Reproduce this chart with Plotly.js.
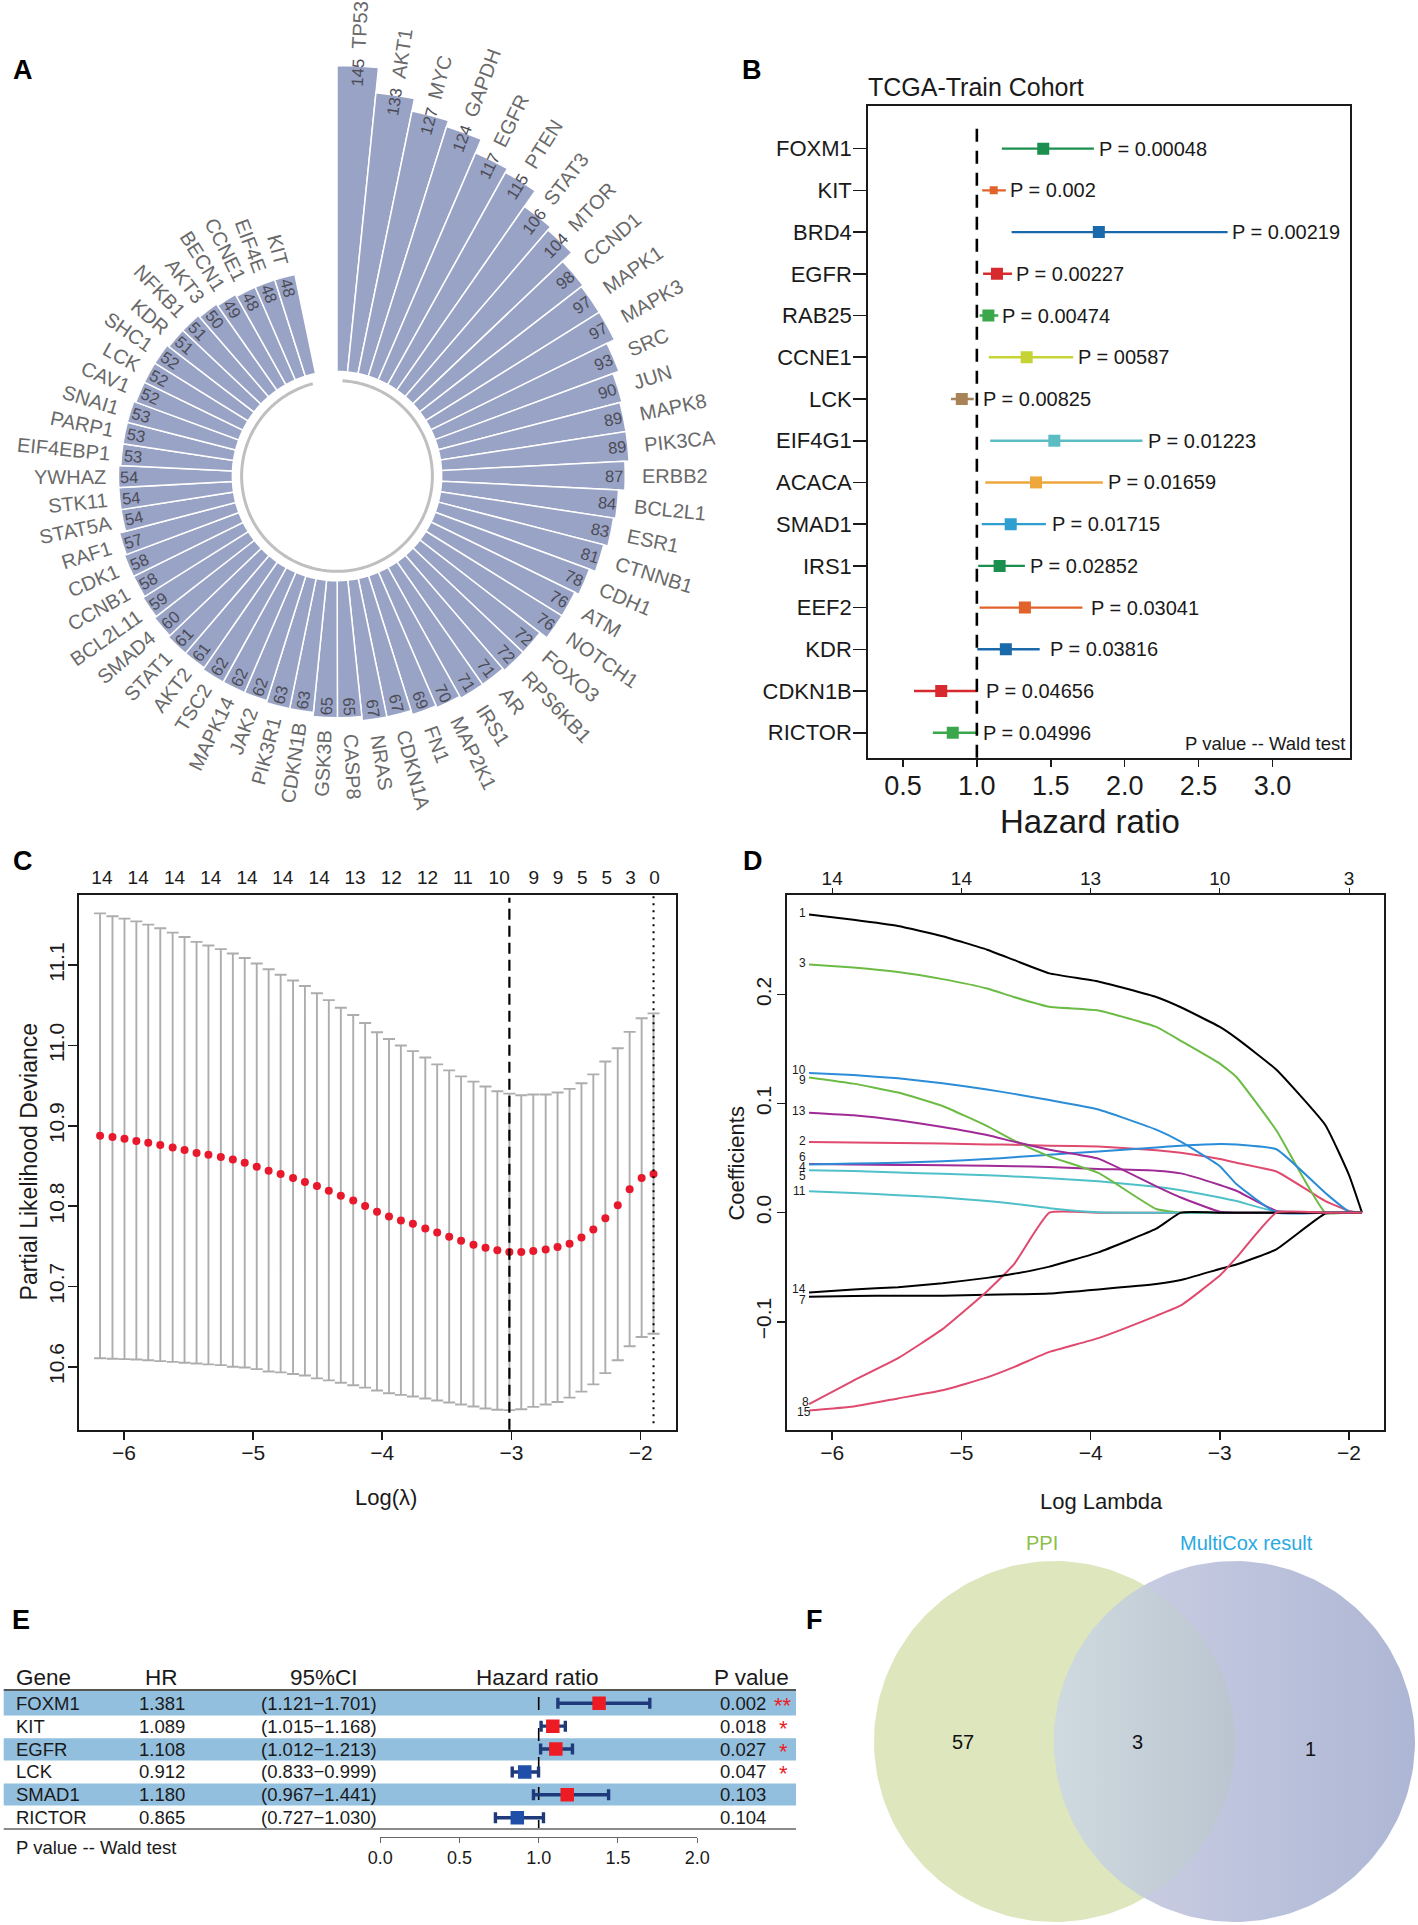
<!DOCTYPE html>
<html>
<head>
<meta charset="utf-8">
<script src="https://cdn.plot.ly/plotly-3.0.1.min.js"></script>
<style>
html, body { margin: 0; padding: 0; background: #fff; overflow: hidden; }
#wrap { position: relative; width: 1418px; height: 1925px; overflow: hidden; }
#panelA { position: absolute; left: -163.4px; top: -24.3px; width: 1000px; height: 1000px; }
#panels { position: absolute; left: 0; top: 0; width: 1418px; height: 1925px; }
</style>
</head>
<body>
<div id="wrap">
  <div id="panelA"></div>
  <div id="panels"></div>
</div>
<script>
// A - PPI node degree
var ppiGenes = ['TP53','AKT1','MYC','GAPDH','EGFR','PTEN','STAT3','MTOR','CCND1','MAPK1','MAPK3','SRC','JUN','MAPK8','PIK3CA','ERBB2','BCL2L1','ESR1','CTNNB1','CDH1','ATM','NOTCH1','FOXO3','RPS6KB1','AR','IRS1','MAP2K1','FN1','CDKN1A','NRAS','CASP8','GSK3B','CDKN1B','PIK3R1','JAK2','MAPK14','TSC2','AKT2','STAT1','SMAD4','BCL2L11','CCNB1','CDK1','RAF1','STAT5A','STK11','YWHAZ','EIF4EBP1','PARP1','SNAI1','CAV1','LCK','SHC1','KDR','NFKB1','AKT3','BECN1','CCNE1','EIF4E','KIT'];
var ppiDegree = [145,133,127,124,117,115,106,104,98,97,97,93,90,89,89,87,84,83,81,78,76,76,72,72,71,71,70,69,67,67,65,65,63,63,62,62,62,61,61,60,59,58,58,57,54,54,54,53,53,53,52,52,52,51,51,50,49,48,48,48];

// B - univariate cox
var uniGenes = ['FOXM1','KIT','BRD4','EGFR','RAB25','CCNE1','LCK','EIF4G1','ACACA','SMAD1','IRS1','EEF2','KDR','CDKN1B','RICTOR'];
var uniHR =   [1.449,1.114,1.825,1.136,1.078,1.337,0.898,1.524,1.400,1.229,1.154,1.325,1.196,0.759,0.837];
var uniLow =  [1.169,1.036,1.235,1.042,1.018,1.081,0.825,1.090,1.057,1.033,1.009,1.018,1.003,0.575,0.702];
var uniHigh = [1.792,1.196,2.696,1.238,1.145,1.651,0.979,2.120,1.852,1.467,1.325,1.714,1.425,1.003,1.009];
var uniP = ['P = 0.00048','P = 0.002','P = 0.00219','P = 0.00227','P = 0.00474','P = 00587','P = 0.00825','P = 0.01223','P = 0.01659','P = 0.01715','P = 0.02852','P = 0.03041','P = 0.03816','P = 0.04656','P = 0.04996'];
var uniPX = [1.831,1.232,2.735,1.271,1.178,1.693,1.048,2.163,1.892,1.518,1.367,1.780,1.500,1.069,1.048];
var uniColors = ['#1b8f4d','#e2622b','#1a69ab','#d62a2e','#3aa74a','#c5d334','#a98358','#5cbcc3','#eea73c','#2f9fd0','#1b8f4d','#e2622b','#1a69ab','#d62a2e','#3aa74a'];
var uniSizes = [12,8,12,12,12,12,12,12,12,12,12,12,12,12,12];

// C - lasso cross validation
var cvLambda = [-6.185,-6.089,-5.996,-5.904,-5.812,-5.719,-5.623,-5.531,-5.438,-5.346,-5.250,-5.157,-5.065,-4.972,-4.880,-4.787,-4.691,-4.599,-4.506,-4.414,-4.321,-4.225,-4.133,-4.041,-3.948,-3.856,-3.763,-3.667,-3.575,-3.482,-3.390,-3.294,-3.201,-3.109,-3.016,-2.924,-2.831,-2.735,-2.643,-2.550,-2.458,-2.366,-2.273,-2.177,-2.085,-1.992,-1.900];
var cvMean = [10.8875,10.886,10.884,10.881,10.879,10.876,10.873,10.870,10.866,10.864,10.861,10.858,10.854,10.849,10.844,10.840,10.835,10.830,10.825,10.819,10.813,10.807,10.800,10.793,10.787,10.782,10.778,10.772,10.767,10.762,10.757,10.752,10.748,10.745,10.743,10.743,10.744,10.746,10.749,10.753,10.761,10.771,10.785,10.801,10.821,10.835,10.840];
var cvUpper = [11.1645,11.161,11.158,11.1545,11.1505,11.146,11.1405,11.135,11.129,11.1245,11.120,11.1145,11.109,11.102,11.095,11.088,11.081,11.074,11.065,11.0565,11.047,11.038,11.028,11.0165,11.008,11.000,10.993,10.985,10.9765,10.969,10.9615,10.955,10.949,10.943,10.940,10.938,10.939,10.939,10.9415,10.946,10.953,10.964,10.980,10.9965,11.017,11.034,11.040];
var cvLower = [10.6106,10.610,10.6095,10.609,10.608,10.607,10.606,10.605,10.604,10.603,10.602,10.600,10.599,10.597,10.594,10.593,10.591,10.589,10.5855,10.583,10.580,10.577,10.574,10.5705,10.567,10.565,10.563,10.5605,10.558,10.5555,10.553,10.5505,10.548,10.5465,10.546,10.547,10.550,10.553,10.556,10.5615,10.569,10.578,10.592,10.608,10.6256,10.637,10.641];
var cvTopVals = [-6.171,-5.89,-5.609,-5.328,-5.047,-4.77,-4.489,-4.211,-3.93,-3.649,-3.376,-3.095,-2.828,-2.639,-2.451,-2.262,-2.078,-1.893];
var cvTopText = ['14','14','14','14','14','14','14','13','12','12','11','10','9','9','5','5','3','0'];

// D - lasso coefficient paths
var pathLambda = [-6.179,-5.835,-5.49,-5.146,-4.801,-4.594,-4.319,-3.94,-3.492,-3.302,-3.0,-2.872,-2.562,-2.183,-2.0,-1.9];
var path1 =  [.2734,.2685,.2628,.2534,.2411,.2317,.2194,.2120,.1977,.1883,.1703,.1600,.1310,.0802,.0344,0];
var path2 =  [.0647,.0643,.0639,.0634,.0626,.0622,.0614,.0606,.0573,.0549,.0491,.0458,.0377,.0106,.0016,0];
var path3 =  [.2276,.2247,.2206,.2141,.2055,.1977,.1887,.1854,.1703,.1576,.1367,.1244,.0753,0,0,0];
var path4 =  [.0446,.0442,.0438,.0434,.0430,.0426,.0418,.0401,.0385,.0360,.0254,.0201,.0016,0,0,0];
var path5 =  [.0389,.0381,.0368,.0356,.0344,.0332,.0315,.0287,.0237,.0205,.0139,.0106,.0008,0,0,0];
var path6 =  [.0442,.0450,.0458,.0471,.0491,.0508,.0532,.0561,.0598,.0614,.0630,.0626,.0581,.0180,.0008,0];
var path7 =  [-.0770,-.0765,-.0761,-.0761,-.0753,-.0749,-.0741,-.0704,-.0655,-.0618,-.0516,-.0475,-.0336,-.0008,0,0];
var path8 =  [-.1756,-.1539,-.1334,-.1068,-.0720,-.0475,0,0,0,0,0,0,0,0,0,0];
var path9 =  [.1240,.1183,.1101,.0978,.0794,.0663,.0516,.0364,.0033,0,0,0,0,0,0,0];
var path10 = [.1281,.1261,.1232,.1187,.1130,.1089,.1032,.0946,.0761,.0651,.0426,.0262,0,0,0,0];
var path11 = [.0196,.0180,.0160,.0139,.0106,.0082,.0041,.0004,0,0,0,0,0,0,0,0];
var path13 = [.0917,.0892,.0847,.0786,.0712,.0651,.0577,.0495,.0241,.0139,.0008,0,0,0,0,0];
var path14 = [-.0733,-.0704,-.0684,-.0647,-.0598,-.0561,-.0495,-.0364,-.0147,0,0,0,0,0,0,0];
var path15 = [-.1813,-.1777,-.1703,-.1629,-.1510,-.1416,-.1277,-.1150,-.0946,-.0851,-.0577,-.0413,0,0,0,0];
var pathSeries = [path1,path2,path3,path4,path5,path6,path7,path8,path9,path10,path11,path13,path14,path15];
var pathColors = ['#000000','#df4a6e','#6cbb45','#a02a96','#4fc0c8','#2b8cd8','#000000','#df4a6e','#6cbb45','#2b8cd8','#4fc0c8','#a02a96','#000000','#df4a6e'];
var pathNames = ['1','3','10','9','13','2','6','4','5','11','14','7','8','15'];
var pathNameX = [-6.207,-6.207,-6.207,-6.207,-6.207,-6.207,-6.207,-6.207,-6.207,-6.207,-6.207,-6.207,-6.186,-6.172];
var pathNameY = [.2751,.2292,.1306,.1212,.0929,.0655,.0512,.0418,.0340,.0196,-.0704,-.0802,-.1736,-.1830];
var pathTopVals = [-6,-5,-4,-3,-2];
var pathTopText = ['14','14','13','10','3'];

// E - multivariate cox
var multiGenes = ['FOXM1','KIT','EGFR','LCK','SMAD1','RICTOR'];
var multiHR = [1.381,1.089,1.108,0.912,1.180,0.865];
var multiLow = [1.121,1.015,1.012,0.833,0.967,0.727];
var multiHigh = [1.701,1.168,1.213,0.999,1.441,1.030];
var multiCI = ['(1.121\u22121.701)','(1.015\u22121.168)','(1.012\u22121.213)','(0.833\u22120.999)','(0.967\u22121.441)','(0.727\u22121.030)'];
var multiHRText = ['1.381','1.089','1.108','0.912','1.180','0.865'];
var multiP = ['0.002','0.018','0.027','0.047','0.103','0.104'];
var multiStars = ['**','*','*','*','',''];

// F - venn
var vennSets = ['PPI','MultiCox result'];
var vennCounts = ['57','3','1'];

var W = 1418, H = 1925;
var FONT = 'Liberation Sans, Arial, sans-serif';
var DARK = '#1a1a1a';

function domX(a, b) { return [a / W, b / W]; }
function domY(top, bot) { return [1 - bot / H, 1 - top / H]; }
function px(x) { return x / W; }
function py(y) { return 1 - y / H; }

function label(text, x, y, size, extra) {
  var a = {text: text, x: px(x), y: py(y), xref: 'paper', yref: 'paper', showarrow: false,
    xanchor: 'center', yanchor: 'middle', font: {family: FONT, size: size, color: DARK}};
  for (var k in extra) a[k] = extra[k];
  return a;
}

/* ---------- panel A ---------- */
var canvasCtx = document.createElement('canvas').getContext('2d');
function textWidth(s, size) {
  canvasCtx.font = size + 'px "Liberation Sans"';
  return canvasCtx.measureText(s).width;
}

var SIZE_A = 1000, RAD_A = SIZE_A / 2;
var PX_UNIT = 2.11, HOLE = 49.6;
var barWidth = 348.2 / ppiGenes.length;
var thetas = ppiGenes.map(function (g, i) { return (i + 0.5) * barWidth; });

var ringTheta = [], ringR = [];
for (var t = 3.3; t <= 345.7; t += 1) { ringTheta.push(t); ringR.push(-4.4); }

var annotA = [];
ppiGenes.forEach(function (g, i) {
  var th = thetas[i], rad = th * Math.PI / 180;
  var tickAngle = th < 180 ? th - 90 : th - 270;
  var outer = (HOLE + ppiDegree[i]) * PX_UNIT;
  var nr = outer - (ppiDegree[i] >= 100 ? 6 : 11);
  var gap = (th < 180 ? 17 : 12);
  var gr = outer + gap + textWidth(g, 20) / 2;
  annotA.push({text: String(ppiDegree[i]), x: 0.5 + nr * Math.sin(rad) / SIZE_A, y: 0.5 + nr * Math.cos(rad) / SIZE_A,
    xref: 'paper', yref: 'paper', xanchor: 'center', yanchor: 'middle', showarrow: false, textangle: tickAngle,
    font: {family: FONT, size: 16.5, color: '#4c4c55'}});
  annotA.push({text: g, x: 0.5 + gr * Math.sin(rad) / SIZE_A, y: 0.5 + gr * Math.cos(rad) / SIZE_A,
    xref: 'paper', yref: 'paper', xanchor: 'center', yanchor: 'middle', showarrow: false, textangle: tickAngle,
    font: {family: FONT, size: 20, color: '#6a6a6a'}});
});

var dataA = [
  {type: 'barpolar', r: ppiDegree, theta: thetas, width: barWidth, name: 'degree',
    marker: {color: '#99a3c6', line: {color: '#ffffff', width: 1.5}}, hoverinfo: 'none'},
  {type: 'scatterpolar', mode: 'lines', r: ringR, theta: ringTheta, name: 'ring',
    line: {color: '#bfbfbf', width: 3}, hoverinfo: 'none'}
];
var layoutA = {
  width: SIZE_A, height: SIZE_A, margin: {l: 0, r: 0, t: 0, b: 0}, showlegend: false,
  paper_bgcolor: 'rgba(0,0,0,0)', font: {family: FONT},
  polar: {
    domain: {x: [0, 1], y: [0, 1]}, bgcolor: 'rgba(0,0,0,0)', bargap: 0,
    radialaxis: {visible: false, range: [-HOLE, RAD_A / PX_UNIT - HOLE]},
    angularaxis: {visible: false, direction: 'clockwise', rotation: 90, thetaunit: 'degrees'}
  },
  annotations: annotA
};
Plotly.newPlot('panelA', dataA, layoutA, {displayModeBar: false, staticPlot: true});

/* ---------- panels B-F ---------- */
var traces = [], shapes = [], annots = [];

function boxAxis(domain, range, size) {
  return {domain: domain, range: range, showline: true, mirror: true, linecolor: DARK, linewidth: 2,
    ticks: 'outside', tickcolor: DARK, tickwidth: 1.6, zeroline: false, showgrid: false,
    tickfont: {family: FONT, size: size, color: DARK}};
}

// panel letters
[['A', 23, 70], ['B', 752, 69.6], ['C', 23, 861], ['D', 752.5, 861], ['E', 21, 1620], ['F', 814, 1620]].forEach(function (p) {
  annots.push(label('<b>' + p[0] + '</b>', p[1], p[2], 27, {font: {family: FONT, size: 27, color: '#000'}}));
});

// B
uniGenes.forEach(function (g, i) {
  traces.push({type: 'scatter', mode: 'markers', x: [uniHR[i]], y: [g], xaxis: 'x', yaxis: 'y', name: g,
    marker: {symbol: 'square', size: uniSizes[i], color: uniColors[i]},
    error_x: {type: 'data', symmetric: false, array: [uniHigh[i] - uniHR[i]], arrayminus: [uniHR[i] - uniLow[i]],
      color: uniColors[i], thickness: 2.4, width: 0}});
  annots.push({text: uniP[i], x: uniPX[i], y: g, xref: 'x', yref: 'y', xanchor: 'left', xshift: -3, showarrow: false,
    font: {family: FONT, size: 20, color: DARK}});
});
shapes.push({type: 'line', xref: 'x', yref: 'y domain', x0: 1, x1: 1, y0: 0, y1: 0.973,
  line: {color: '#000', width: 2.6, dash: '13px,9px'}});
annots.push(label('TCGA-Train Cohort', 866, 87.4, 25, {xanchor: 'left'}));
annots.push(label('Hazard ratio', 1090, 821.6, 33));
annots.push(label('P value -- Wald test', 1347, 744, 18.5, {xanchor: 'right'}));

// C
traces.push({type: 'scatter', mode: 'markers', x: cvLambda, y: cvMean, xaxis: 'x2', yaxis: 'y2', name: 'cv',
  marker: {color: '#e8192c', size: 8},
  error_y: {type: 'data', symmetric: false,
    array: cvUpper.map(function (v, i) { return v - cvMean[i]; }),
    arrayminus: cvLower.map(function (v, i) { return cvMean[i] - v; }),
    color: '#adadad', thickness: 1.9, width: 6}});
// top axis needs a trace of its own to be drawn
traces.push({type: 'scatter', mode: 'markers', x: cvTopVals, y: cvTopVals.map(function () { return cvMean[0]; }), xaxis: 'x6', yaxis: 'y2', marker: {opacity: 0}, hoverinfo: 'none'});
shapes.push({type: 'line', xref: 'x2', yref: 'y2 domain', x0: -3.016, x1: -3.016, y0: 0, y1: 0.994,
  line: {color: '#000', width: 2.2, dash: '11px,6px'}});
shapes.push({type: 'line', xref: 'x2', yref: 'y2 domain', x0: -1.9, x1: -1.9, y0: 0.012, y1: 0.997,
  line: {color: '#000', width: 2, dash: '2px,5px'}});
annots.push(label('Log(\u03bb)', 385.7, 1497.6, 22));
annots.push(label('Partial Likelihood Deviance', 28.5, 1161.9, 23, {textangle: -90}));

// D
pathSeries.forEach(function (p, i) {
  traces.push({type: 'scatter', mode: 'lines', x: pathLambda, y: p, xaxis: 'x3', yaxis: 'y3',
    line: {color: pathColors[i], width: 2, shape: 'spline', smoothing: 0.4}});
});
traces.push({type: 'scatter', mode: 'markers', x: pathTopVals, y: pathTopVals.map(function () { return 0; }), xaxis: 'x7', yaxis: 'y3', marker: {opacity: 0}, hoverinfo: 'none'});
pathNames.forEach(function (n, i) {
  annots.push({text: n, x: pathNameX[i], y: pathNameY[i], xref: 'x3', yref: 'y3', xanchor: 'right', xshift: 3, showarrow: false,
    font: {family: FONT, size: 12, color: DARK}});
});
annots.push(label('Log Lambda', 1101.5, 1501, 22));
annots.push(label('Coefficients', 737, 1163.6, 22, {textangle: -90}));

// E
shapes.push({type: 'rect', xref: 'paper', yref: 'y4', x0: px(3.7), x1: px(796), y0: -0.54, y1: 0.53, layer: 'below', line: {width: 0}, fillcolor: '#92bfde'});
shapes.push({type: 'rect', xref: 'paper', yref: 'y4', x0: px(3.7), x1: px(796), y0: 1.53, y1: 2.5, layer: 'below', line: {width: 0}, fillcolor: '#92bfde'});
shapes.push({type: 'rect', xref: 'paper', yref: 'y4', x0: px(3.7), x1: px(796), y0: 3.5, y1: 4.47, layer: 'below', line: {width: 0}, fillcolor: '#92bfde'});
shapes.push({type: 'line', xref: 'paper', yref: 'paper', x0: px(3.7), x1: px(796), y0: py(1690), y1: py(1690), line: {color: '#555', width: 2}});
shapes.push({type: 'line', xref: 'paper', yref: 'paper', x0: px(3.7), x1: px(796), y0: py(1829), y1: py(1829), line: {color: '#8a8a8a', width: 2}});
// the reference line at HR 1 only shows in pieces between the rows
[[1697, 1710], [1728, 1741], [1757, 1768], [1787, 1800], [1820, 1830]].forEach(function (s) {
  shapes.push({type: 'line', xref: 'x4', yref: 'paper', x0: 1, x1: 1, y0: py(s[0]), y1: py(s[1]), layer: 'below', line: {color: '#000', width: 1.6}});
});
['up', 'down'].forEach(function (dir) {
  var idx = [];
  multiHR.forEach(function (v, i) { if ((v > 1) === (dir === 'up')) idx.push(i); });
  traces.push({type: 'scatter', mode: 'markers', xaxis: 'x4', yaxis: 'y4', name: dir,
    x: idx.map(function (i) { return multiHR[i]; }),
    y: idx.map(function (i) { return multiGenes[i]; }),
    marker: {symbol: 'square', size: 13.5, color: dir === 'up' ? '#ed1c24' : '#1f4fa8'},
    error_x: {type: 'data', symmetric: false,
      array: idx.map(function (i) { return multiHigh[i] - multiHR[i]; }),
      arrayminus: idx.map(function (i) { return multiHR[i] - multiLow[i]; }),
      color: '#1f3a7a', thickness: 3.4, width: 5.5}});
});
function rowText(t, g, x, anchor, size, color, yshift) {
  annots.push({text: t, x: px(x), y: g, xref: 'paper', yref: 'y4', xanchor: anchor, showarrow: false, yshift: yshift || 0,
    font: {family: FONT, size: size, color: color || DARK}});
}
multiGenes.forEach(function (g, i) {
  rowText(g, g, 14, 'left', 18.5);
  rowText(multiHRText[i], g, 162, 'center', 18.5);
  rowText(multiCI[i], g, 319, 'center', 18.5);
  rowText(multiP[i], g, 718, 'left', 18.5);
  if (multiStars[i]) rowText(multiStars[i], g, 783, 'center', 22, '#ed1c24', -2);
});
annots.push(label('Gene', 13.5, 1677.3, 22.5, {xanchor: 'left'}));
annots.push(label('HR', 161, 1677.3, 22.5));
annots.push(label('95%CI', 324, 1677.3, 22.5));
annots.push(label('Hazard ratio', 537.6, 1677.3, 22.5));
annots.push(label('P value', 751.5, 1677.3, 22.5));
annots.push(label('P value -- Wald test', 13.5, 1847.7, 18.5, {xanchor: 'left'}));

// F
var vennR = 180.5, vennDX = 180;
function arc(cx, a0, a1, n) {
  var xs = [], ys = [];
  for (var i = 0; i <= n; i++) {
    var a = (a0 + (a1 - a0) * i / n) * Math.PI / 180;
    xs.push(cx + vennR * Math.cos(a));
    ys.push(vennR * Math.sin(a));
  }
  return {x: xs, y: ys};
}
var leftC = arc(0, 0, 360, 180), rightC = arc(vennDX, 0, 360, 180);
var half = Math.acos(vennDX / 2 / vennR) * 180 / Math.PI;
var lensA = arc(0, -half, half, 60), lensB = arc(vennDX, 180 - half, 180 + half, 60);
function blob(o, grad) {
  var t = {type: 'scatter', mode: 'lines', x: o.x, y: o.y, xaxis: 'x5', yaxis: 'y5', fill: 'toself', line: {width: 0}, hoverinfo: 'none'};
  if (grad.length == 1) t.fillcolor = grad[0];
  else t.fillgradient = {type: 'horizontal', colorscale: [[0, grad[0]], [1, grad[1]]]};
  return t;
}
traces.push(blob(leftC, ['#dde6bd']));
traces.push(blob(rightC, ['#d0d3e6', '#adb6d4']));
traces.push(blob({x: lensA.x.concat(lensB.x), y: lensA.y.concat(lensB.y)}, ['#cfdae0', '#bac5d0']));
annots.push({text: vennCounts[0], x: -91.8, y: 0, xref: 'x5', yref: 'y5', showarrow: false, font: {family: FONT, size: 20, color: '#111'}});
annots.push({text: vennCounts[1], x: 82.5, y: 0, xref: 'x5', yref: 'y5', showarrow: false, font: {family: FONT, size: 20, color: '#111'}});
annots.push({text: vennCounts[2], x: 255.5, y: -7.5, xref: 'x5', yref: 'y5', showarrow: false, font: {family: FONT, size: 20, color: '#111'}});
annots.push(label(vennSets[0], 1041.5, 1542.7, 20, {font: {family: FONT, size: 20, color: '#8cc04a'}}));
annots.push(label(vennSets[1], 1246, 1542.7, 20, {font: {family: FONT, size: 20, color: '#29a9e0'}}));

var layout = {
  width: W, height: H, margin: {l: 0, r: 0, t: 0, b: 0}, showlegend: false, hovermode: false,
  paper_bgcolor: 'rgba(0,0,0,0)', plot_bgcolor: 'rgba(0,0,0,0)', font: {family: FONT},
  shapes: shapes, annotations: annots,

  // B
  xaxis: Object.assign(boxAxis(domX(868.2, 1350), [0.265, 3.524], 27), {anchor: 'y', tickvals: [0.5, 1, 1.5, 2, 2.5, 3], tickformat: '.1f', ticklen: 7, ticklabelstandoff: -4}),
  yaxis: Object.assign(boxAxis(domY(106.3, 757.8), [14.6, -1.015], 22), {anchor: 'x', type: 'category', categoryorder: 'array', categoryarray: uniGenes, ticklen: 13, ticklabelstandoff: -3}),

  // C
  xaxis2: Object.assign(boxAxis(domX(78.5, 676), [-6.352, -1.726], 21), {anchor: 'y2', tickvals: [-6, -5, -4, -3, -2], ticklen: 8, ticklabelstandoff: -5}),
  yaxis2: Object.assign(boxAxis(domY(894.5, 1429.7), [10.5216, 11.188], 21), {anchor: 'x2', tickvals: [10.6, 10.7, 10.8, 10.9, 11, 11.1], tickformat: '.1f', tickangle: -90, ticklen: 9, ticklabelstandoff: -5}),
  xaxis6: {domain: domX(78.5, 676), range: [-6.352, -1.726], anchor: 'y2', overlaying: 'x2', side: 'top', showgrid: false, zeroline: false,
    tickmode: 'array', tickvals: cvTopVals, ticktext: cvTopText, ticks: '', ticklabelstandoff: 6, tickfont: {family: FONT, size: 19, color: DARK}},

  // D
  xaxis3: Object.assign(boxAxis(domX(786.8, 1384.2), [-6.351, -1.728], 21), {anchor: 'y3', tickvals: [-6, -5, -4, -3, -2], ticklen: 8, ticklabelstandoff: -5}),
  yaxis3: Object.assign(boxAxis(domY(894.5, 1429.7), [-0.199, 0.2917], 21), {anchor: 'x3', tickvals: [-0.1, 0, 0.1, 0.2], tickformat: '.1f', tickangle: -90, ticklen: 8, ticklabelstandoff: -3}),
  xaxis7: {domain: domX(786.8, 1384.2), range: [-6.351, -1.728], anchor: 'y3', overlaying: 'x3', side: 'top', showgrid: false, zeroline: false,
    tickmode: 'array', tickvals: pathTopVals, ticktext: pathTopText, ticks: 'outside', ticklen: 6, tickcolor: DARK, ticklabelstandoff: -5, tickfont: {family: FONT, size: 19, color: DARK}},

  // E
  xaxis4: {domain: domX(380.2, 697.2), range: [0, 2], anchor: 'y4', showline: true, linecolor: '#666', linewidth: 1, ticks: 'outside', ticklen: 5, tickcolor: '#666', showgrid: false, zeroline: false,
    tickvals: [0, 0.5, 1, 1.5, 2], tickformat: '.1f', tickfont: {family: FONT, size: 18, color: DARK}},
  yaxis4: {domain: domY(1690.7, 1836.7), range: [5.83, -0.55], anchor: 'x4', type: 'category', categoryorder: 'array', categoryarray: multiGenes, showticklabels: false, showgrid: false, zeroline: false, ticks: ''},

  // F, one axis unit is one pixel
  xaxis5: {domain: domX(870, 1418), range: [-184.5, 363.5], anchor: 'y5', visible: false},
  yaxis5: {domain: domY(1555, 1925), range: [-183.5, 186.5], anchor: 'x5', visible: false}
};

Plotly.newPlot('panels', traces, layout, {displayModeBar: false, staticPlot: true});
</script>
</body>
</html>
